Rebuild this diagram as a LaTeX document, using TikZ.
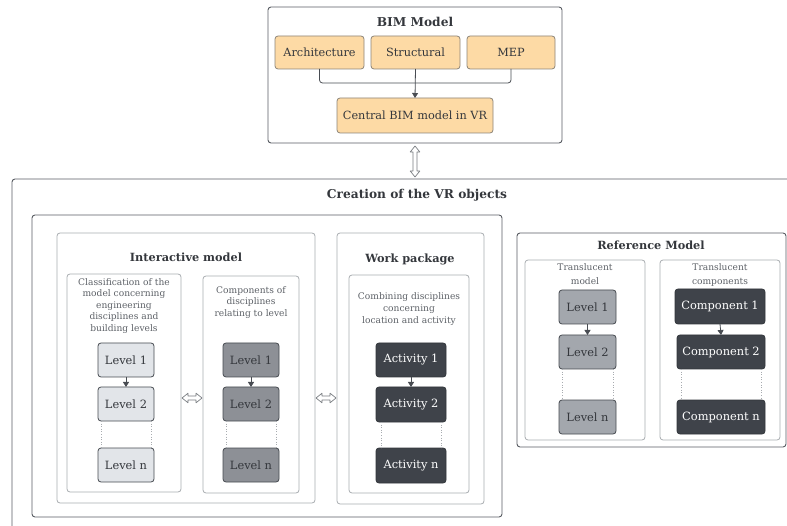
\documentclass[tikz,border=0pt]{standalone}
\usepackage{fontspec}
\setmainfont{DejaVu Serif}
\usetikzlibrary{arrows.meta,calc}

\definecolor{peach}{RGB}{253,218,165}
\definecolor{peachline}{RGB}{140,132,120}
\definecolor{frame}{RGB}{88,92,98}
\definecolor{softframe}{RGB}{168,172,176}
\definecolor{titletext}{RGB}{52,55,60}
\definecolor{desctext}{RGB}{92,96,102}
\definecolor{lightfill}{RGB}{226,229,233}
\definecolor{midfill}{RGB}{141,144,150}
\definecolor{reffill}{RGB}{163,167,173}
\definecolor{darkfill}{RGB}{63,67,74}
\definecolor{boxline}{RGB}{70,74,80}
\definecolor{connline}{RGB}{72,76,82}
\definecolor{arrowgray}{RGB}{120,124,128}

\tikzset{
  anybox/.style={rectangle, rounded corners=3pt, inner sep=0pt, outer sep=0pt, align=center},
  bigframe/.style={anybox, draw=frame, line width=0.9pt},
  softbox/.style={anybox, draw=softframe, line width=0.8pt},
  discbox/.style={anybox, draw=peachline, fill=peach, line width=0.8pt, text=titletext, font=\fontsize{11.3}{13}\selectfont},
  lvlbase/.style={anybox, draw=boxline, line width=0.8pt, font=\fontsize{11.4}{13}\selectfont},
  lvllight/.style={lvlbase, fill=lightfill, text=titletext},
  lvlmid/.style={lvlbase, fill=midfill, text=titletext},
  lvlref/.style={lvlbase, fill=reffill, text=titletext},
  lvldark/.style={lvlbase, fill=darkfill, draw=darkfill!80!black, text=white},
  headline/.style={font=\bfseries\fontsize{12.2}{14}\selectfont, text=titletext, inner sep=0pt},
  subheadline/.style={font=\bfseries\fontsize{11.3}{13}\selectfont, text=titletext, inner sep=0pt},
  desc/.style={font=\fontsize{9.1}{11.5}\selectfont, text=desctext, align=center, inner sep=0pt, anchor=north},
  conn/.style={draw=connline, line width=0.8pt},
  tipdown/.style={conn, -{Triangle[width=6pt,length=5pt]}},
  dotline/.style={draw=softframe, line width=0.6pt, dotted},
  % outlined two-headed arrow between two points
  hollowarrow/.style={draw=arrowgray, fill=white, line width=0.7pt, line join=round,
    to path={
      -- ($(\tikztostart)!6pt!(\tikztotarget)!4.8pt!90:(\tikztotarget)$)
      -- ($(\tikztostart)!6pt!(\tikztotarget)!2pt!90:(\tikztotarget)$)
      -- ($(\tikztotarget)!6pt!(\tikztostart)!2pt!-90:(\tikztostart)$)
      -- ($(\tikztotarget)!6pt!(\tikztostart)!4.8pt!-90:(\tikztostart)$)
      -- (\tikztotarget)
      -- ($(\tikztotarget)!6pt!(\tikztostart)!4.8pt!90:(\tikztostart)$)
      -- ($(\tikztotarget)!6pt!(\tikztostart)!2pt!90:(\tikztostart)$)
      -- ($(\tikztostart)!6pt!(\tikztotarget)!2pt!-90:(\tikztotarget)$)
      -- ($(\tikztostart)!6pt!(\tikztotarget)!4.8pt!-90:(\tikztotarget)$)
      -- cycle}},
}

% box from its corners (x1,y1)-(x2,y2) in picture units
\newcommand\cornerbox[7]{%
  \node[#1, minimum width={#5-#3}, minimum height={#6-#4}] (#2) at ({(#3+#5)/2},{(#4+#6)/2}) {#7};}

\begin{document}
\begin{tikzpicture}[x=1pt,y=-1pt]
\useasboundingbox (0,0) rectangle (787,526);
\clip (0,0) rectangle (787,526);

% ---------- BIM model ----------
\cornerbox{bigframe}{bim}{268}{7}{562}{143}{}
\node[headline] (bimtitle) at (415,22) {BIM Model};
\cornerbox{discbox}{arch}{275}{36}{364}{69}{Architecture}
\cornerbox{discbox}{struct}{371}{36}{460}{69}{Structural}
\cornerbox{discbox}{mep}{467}{36}{555}{69}{MEP}
\cornerbox{discbox}{central}{337}{98}{493}{133}{Central BIM model in VR}
\draw[conn, rounded corners=3pt] (arch.south) -- ++(0,14) -| (mep.south);
\draw[tipdown] (struct.south) -- (central.north);

% ---------- creation of the VR objects ----------
\cornerbox{bigframe}{outer}{12}{179}{800}{560}{}
\node[headline] (outertitle) at (417,195) {Creation of the VR objects};
\coordinate (vtop) at ([yshift=-3pt]bim.south);
\coordinate (vbot) at ([yshift=2pt]bim.south |- outer.north);
\draw[hollowarrow] (vtop) to (vbot);

\cornerbox{bigframe}{inner}{32}{215}{502}{517}{}

% interactive model
\cornerbox{softbox}{im}{57}{233}{315}{503}{}
\node[subheadline] (imtitle) at (186,257) {Interactive model};

\cornerbox{softbox}{cls}{67}{274}{181}{492}{}
\node[desc] (clstext) at (124,278) {Classification of the\\model concerning\\engineering\\disciplines and\\building levels};
\cornerbox{lvllight}{clA}{98}{343}{154}{377}{Level 1}
\cornerbox{lvllight}{clB}{98}{387}{154}{421}{Level 2}
\cornerbox{lvllight}{clN}{98}{448}{154}{482}{Level n}
\draw[tipdown] (clA.south) -- (clB.north);
\draw[dotline] ([xshift=3pt]clB.south west) -- ([xshift=3pt]clN.north west);
\draw[dotline] ([xshift=-3pt]clB.south east) -- ([xshift=-3pt]clN.north east);

\cornerbox{softbox}{cmp}{203}{276}{299}{493}{}
\node[desc] (cmptext) at (251,286) {Components of\\disciplines\\relating to level};
\cornerbox{lvlmid}{cmA}{223}{343}{279}{377}{Level 1}
\cornerbox{lvlmid}{cmB}{223}{387}{279}{421}{Level 2}
\cornerbox{lvlmid}{cmN}{223}{448}{279}{482}{Level n}
\draw[tipdown] (cmA.south) -- (cmB.north);
\draw[dotline] ([xshift=3pt]cmB.south west) -- ([xshift=3pt]cmN.north west);
\draw[dotline] ([xshift=-3pt]cmB.south east) -- ([xshift=-3pt]cmN.north east);

\coordinate (hAa) at ([xshift=1pt,yshift=6pt]cls.east |- clB.center);
\coordinate (hAb) at ([xshift=-1pt,yshift=6pt]cmp.west |- clB.center);
\draw[hollowarrow] (hAa) to (hAb);

% work package
\cornerbox{softbox}{wp}{337}{233}{484}{504}{}
\node[subheadline] (wptitle) at (410,259) {Work package};
\cornerbox{softbox}{comb}{349}{275}{469}{493}{}
\node[desc, font=\fontsize{9.1}{12}\selectfont] (combtext) at (409,292) {Combining disciplines\\concerning\\location and activity};
\cornerbox{lvldark}{acA}{376}{343}{446}{377}{Activity 1}
\cornerbox{lvldark}{acB}{376}{387}{446}{422}{Activity 2}
\cornerbox{lvldark}{acN}{376}{448}{446}{483}{Activity n}
\draw[tipdown] (acA.south) -- (acB.north);
\draw[dotline] ([xshift=5pt]acB.south west) -- ([xshift=5pt]acN.north west);
\draw[dotline] ([xshift=-5pt]acB.south east) -- ([xshift=-5pt]acN.north east);

\coordinate (hBa) at ([xshift=1pt,yshift=6pt]im.east |- clB.center);
\coordinate (hBb) at ([xshift=-1pt,yshift=6pt]wp.west |- clB.center);
\draw[hollowarrow] (hBa) to (hBb);

% ---------- reference model ----------
\cornerbox{bigframe}{ref}{517}{233}{786}{447}{}
\node[subheadline] (reftitle) at (651,245) {Reference Model};

\cornerbox{softbox}{tm}{525}{260}{645}{440}{}
\node[desc, font=\fontsize{9.1}{14}\selectfont] (tmtext) at (585,263) {Translucent\\model};
\cornerbox{lvlref}{tmA}{559}{290}{616}{324}{Level 1}
\cornerbox{lvlref}{tmB}{559}{335}{616}{369}{Level 2}
\cornerbox{lvlref}{tmN}{559}{400}{616}{434}{Level n}
\draw[tipdown] (tmA.south) -- (tmB.north);
\draw[dotline] ([xshift=3pt]tmB.south west) -- ([xshift=3pt]tmN.north west);
\draw[dotline] ([xshift=-3pt]tmB.south east) -- ([xshift=-3pt]tmN.north east);

\cornerbox{softbox}{tc}{660}{260}{780}{440}{}
\node[desc, font=\fontsize{9.1}{14}\selectfont] (tctext) at (720,263) {Translucent\\components};
\cornerbox{lvldark}{tcA}{675}{289}{765}{324}{Component 1}
\cornerbox{lvldark}{tcB}{677}{335}{765}{369}{Component 2}
\cornerbox{lvldark}{tcN}{677}{400}{765}{434}{Component n}
\draw[tipdown] (tcA.south) -- (tcB.north);
\draw[dotline] ([xshift=4pt]tcB.south west) -- ([xshift=4pt]tcN.north west);
\draw[dotline] ([xshift=-4pt]tcB.south east) -- ([xshift=-4pt]tcN.north east);
\end{tikzpicture}
\end{document}
